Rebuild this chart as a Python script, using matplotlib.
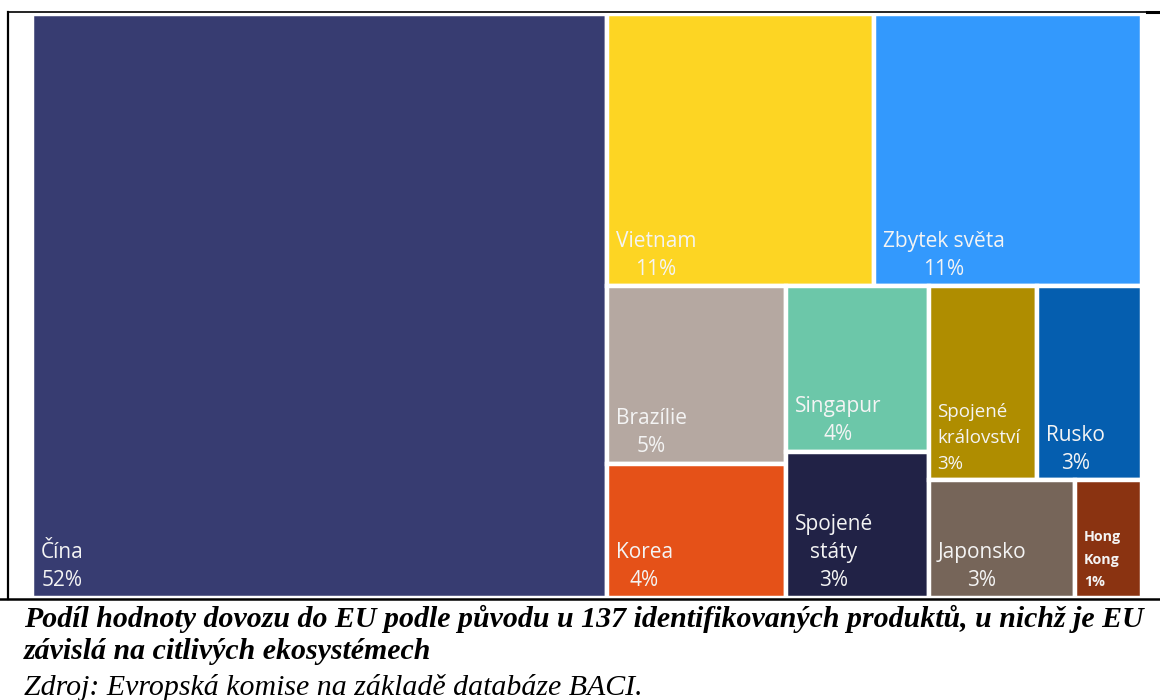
import matplotlib
matplotlib.use("Agg")
import matplotlib.pyplot as plt
from matplotlib.patches import Rectangle
from matplotlib.lines import Line2D

# ---- data ----
countries = ["Čína", "Vietnam", "Zbytek světa", "Brazílie", "Korea", "Singapur",
             "Spojené\nstáty", "Spojené\nkrálovství", "Rusko", "Japonsko", "Hong\nKong"]
shares = [51.8, 11.25, 11.25, 4.9, 3.7, 3.64, 3.23, 3.26, 3.13, 2.66, 1.21]
colors = ["#373C71", "#FDD523", "#3399FD", "#B5A8A1", "#E55118", "#6CC7A9",
          "#212246", "#AF8D00", "#055EAF", "#766559", "#8A3311"]
caption_1 = "Podíl hodnoty dovozu do EU podle původu u 137 identifikovaných produktů, u nichž je EU"
caption_2 = "závislá na citlivých ekosystémech"
source = "Zdroj: Evropská komise na základě databáze BACI."

# ---- squarified treemap layout ----
def worst(row, side):
    s = sum(row)
    return max(max(side * side * r / (s * s), (s * s) / (side * side * r)) for r in row)

def squarify(vals, x, y, w, h):
    rects = []
    total = sum(vals)
    areas = [v * w * h / total for v in vals]
    i = 0
    while i < len(areas):
        side = min(w, h)
        row = [areas[i]]
        j = i + 1
        while j < len(areas) and worst(row + [areas[j]], side) <= worst(row, side):
            row.append(areas[j])
            j += 1
        s = sum(row)
        if w >= h:
            cw = s / h
            yy = y
            for a in row:
                rh = a / cw
                rects.append((x, yy, cw, rh))
                yy += rh
            x += cw
            w -= cw
        else:
            rh = s / w
            xx = x
            for a in row:
                cw = a / rh
                rects.append((xx, y, cw, rh))
                xx += cw
            y += rh
            h -= rh
        i = j
    return rects

W, H = 1110, 584
fig = plt.figure(figsize=(11.6, 7.0), dpi=100)
ax = fig.add_axes([32 / 1160, 1 - 598 / 700, W / 1160, H / 700])
ax.set_xlim(0, W)
ax.set_ylim(H, 0)
ax.axis("off")

rects = squarify(shares, 0, 0, W, H)
small = {"Spojené\nkrálovství": (13.5, "left", "normal", 1.58),
         "Hong\nKong": (10.3, "left", "bold", 1.8)}
for (x, y, w, h), name, val, col in zip(rects, countries, shares, colors):
    ax.add_patch(Rectangle((x, y), w, h, facecolor=col, edgecolor="white", linewidth=3.2))
    fs, ma, fw, ls = small.get(name, (15, "center", "normal", 1.45))
    ax.annotate(f"{name}\n{round(val)}%", xy=(x, y + h), xytext=(6.3, 8.3),
                textcoords="offset points", ha="left", va="baseline",
                multialignment=ma, color="#F4F4F4", fontsize=fs, fontweight=fw,
                linespacing=ls, family="Open Sans")

# frame lines (figure pixel coordinates)
def fline(x0, y0, x1, y1, lw=1.6):
    fig.add_artist(Line2D([x0 / 1160, x1 / 1160], [1 - y0 / 700, 1 - y1 / 700],
                          color="black", linewidth=lw, transform=fig.transFigure))

fline(8, 12, 1147, 12, 1.2)
fline(1147, 12, 1160, 12, 2.2)
fline(8, 12, 8, 599, 1.6)
fline(0, 598.5, 1160, 598.5, 1.8)

fig.text(24 / 1160, 1 - 627 / 700, caption_1, family="Liberation Serif", style="italic",
         weight="bold", fontsize=21.5, va="baseline", ha="left")
fig.text(24 / 1160, 1 - 659 / 700, caption_2, family="Liberation Serif", style="italic",
         weight="bold", fontsize=21.5, va="baseline", ha="left")
fig.text(24 / 1160, 1 - 695 / 700, source, family="Liberation Serif", style="italic",
         fontsize=21.5, va="baseline", ha="left")

fig.savefig("out.png", dpi=100)
